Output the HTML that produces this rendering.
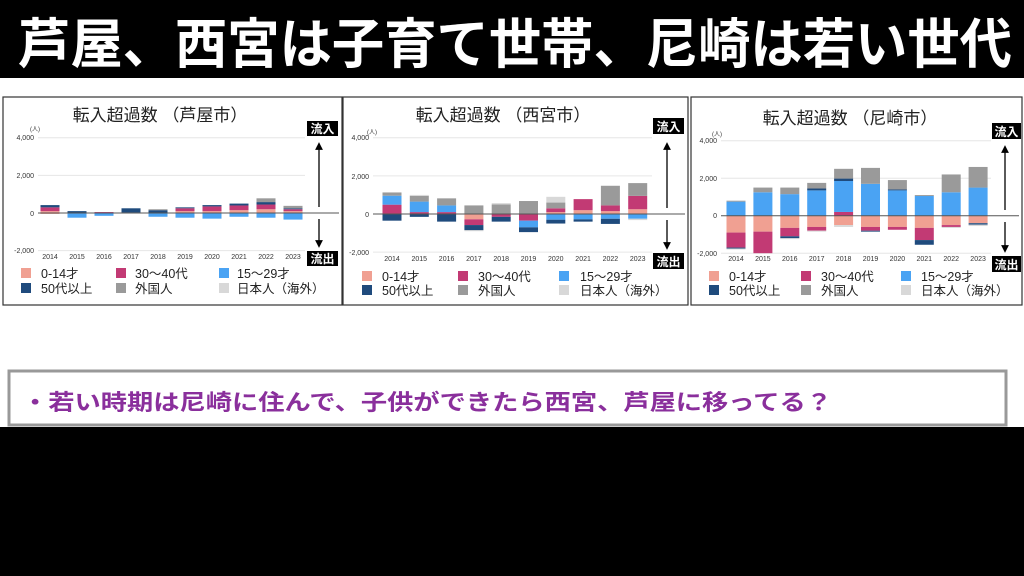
<!DOCTYPE html>
<html><head><meta charset="utf-8"><style>
html,body{margin:0;padding:0;background:#fff;}
body{width:1024px;height:576px;overflow:hidden;position:relative;}
svg{position:absolute;left:0;top:0;}
text{font-family:"Liberation Sans","Noto Sans CJK JP",sans-serif;}
</style></head><body>
<svg id="s" width="1024" height="576" viewBox="0 0 1024 576" xmlns="http://www.w3.org/2000/svg">
<rect x="0" y="0" width="1024" height="78" fill="#000"/>
<text x="18" y="63" font-size="54" font-weight="bold" fill="#fff" textLength="994" lengthAdjust="spacingAndGlyphs">芦屋、西宮は子育て世帯、尼崎は若い世代</text>
<rect x="0" y="427" width="1024" height="149" fill="#000"/>
<rect x="9" y="371" width="997" height="54" fill="#fff" stroke="#999" stroke-width="3"/>
<text x="22" y="410" font-size="22" font-weight="bold" fill="#8a2f9c" textLength="810" lengthAdjust="spacingAndGlyphs">・若い時期は尼崎に住んで、子供ができたら西宮、芦屋に移ってる？</text>
<g id="panels"></g>
</svg>
<script>
var C={p:"#f0a092",m:"#c23a74",b:"#4aa3f3",n:"#1f4b7d",g:"#9a9a9a",l:"#d8d8d8"};
var P=[
{bx:3,bw:339,name:"芦屋市",tx:160,y4:137.7,y0:213,x0:38,x1:305,c0:50,sp:27,lx:[22,117,220],ly:[274,288],inx:307,iny:122,outy:252,ax:319,
d:[[["p",100],["m",200],["n",120]],[["p",50]],
[["n",100]],[["b",250]],
[["m",50]],[["b",150]],
[["m",30],["n",220]],[],
[["n",150],["g",50]],[["b",200]],
[["p",100],["m",150],["n",50]],[["b",250]],
[["p",100],["m",250],["n",70]],[["b",300]],
[["p",150],["m",250],["n",100]],[["b",200]],
[["p",200],["m",250],["n",130],["g",200]],[["b",250]],
[["p",100],["m",100],["n",50],["g",130]],[["b",350]]]},
{bx:343,bw:345,name:"西宮市",tx:503,y4:137.7,y0:214,x0:373,x1:652,c0:392,sp:27.3,lx:[367,463,564],ly:[277,290],inx:653,iny:119,outy:253,ax:667,
d:[[["m",490],["b",470],["g",170]],[["n",350]],
[["m",100],["b",550],["g",300],["l",50]],[["n",150]],
[["m",100],["b",350],["g",370]],[["n",400]],
[["g",450]],[["p",280],["m",300],["n",270],["l",50]],
[["g",500],["l",70]],[["m",150],["n",250]],
[["g",680]],[["m",350],["b",350],["n",250]],
[["p",100],["m",200],["g",300],["l",300]],[["b",300],["n",200]],
[["p",200],["m",580]],[["b",280],["n",120]],
[["p",150],["m",300],["g",1030]],[["b",250],["n",270]],
[["p",250],["m",700],["g",670]],[["b",250],["l",70]]]},
{bx:691,bw:331,name:"尼崎市",tx:850,y4:140.7,y0:215.7,x0:721,x1:991,c0:736,sp:26.9,lx:[714,806,906],ly:[277,291],inx:993,iny:125,outy:257,ax:1006,
d:[[["b",750],["g",50]],[["p",900],["m",800],["n",50],["l",50]],
[["b",1250],["g",250]],[["p",850],["m",1150]],
[["b",1150],["g",350]],[["p",650],["m",450],["n",100],["l",50]],
[["b",1350],["n",100],["g",300]],[["p",600],["m",200],["l",50]],
[["m",200],["b",1650],["n",130],["g",520]],[["p",500],["l",100]],
[["b",1700],["g",850]],[["p",600],["m",200],["n",50]],
[["b",1350],["n",50],["g",500]],[["p",600],["m",150]],
[["b",1050],["g",50]],[["p",650],["m",650],["n",250]],
[["b",1250],["g",950]],[["p",500],["m",100],["l",50]],
[["b",1500],["g",1100]],[["p",400],["n",80],["l",70]]]}
];
var NS="http://www.w3.org/2000/svg",G=document.getElementById("panels");
function el(t,a,txt){var e=document.createElementNS(NS,t);for(var k in a)e.setAttribute(k,a[k]);if(txt!=null)e.textContent=txt;G.appendChild(e);return e;}
P.forEach(function(p){
 el("rect",{x:p.bx,y:97,width:p.bw,height:208,fill:"#fff",stroke:"#333","stroke-width":1.2});
 var u=(p.y0-p.y4)/4000;
 [4000,2000,-2000].forEach(function(v){var y=p.y0-v*u;el("line",{x1:p.x0,x2:p.x1,y1:y,y2:y,stroke:"#e6e6e6","stroke-width":1});});
 for(var i=0;i<10;i++){
  var cx=p.c0+i*p.sp,pos=p.d[2*i],neg=p.d[2*i+1],acc=0;
  pos.forEach(function(s){var h=s[1]*u;el("rect",{x:cx-9.5,y:p.y0-acc-h,width:19,height:h,fill:C[s[0]]});acc+=h;});
  acc=0;
  neg.forEach(function(s){var h=s[1]*u;el("rect",{x:cx-9.5,y:p.y0+acc,width:19,height:h,fill:C[s[0]]});acc+=h;});
 }
 el("line",{x1:p.x0,x2:p.bx+p.bw-3,y1:p.y0,y2:p.y0,stroke:"#555","stroke-width":1});
});
</script>
<svg width="1024" height="576" viewBox="0 0 1024 576" xmlns="http://www.w3.org/2000/svg" font-family="Liberation Sans, Noto Sans CJK JP, sans-serif">
<defs><marker id="ah" markerWidth="6" markerHeight="6" refX="3" refY="3" orient="auto"><path d="M0,0 L6,3 L0,6 z" fill="#000"/></marker></defs>
<!-- panel 1 -->
<text x="160" y="121" font-size="17" text-anchor="middle" fill="#222">転入超過数 （芦屋市）</text>
<g font-size="7" fill="#333" text-anchor="end"><text x="34" y="140">4,000</text><text x="34" y="178">2,000</text><text x="34" y="216">0</text><text x="34" y="253">-2,000</text></g>
<text x="30" y="131" font-size="6" fill="#333">(人)</text>
<g font-size="7" fill="#333" text-anchor="middle"><text x="50" y="259">2014</text><text x="77" y="259">2015</text><text x="104" y="259">2016</text><text x="131" y="259">2017</text><text x="158" y="259">2018</text><text x="185" y="259">2019</text><text x="212" y="259">2020</text><text x="239" y="259">2021</text><text x="266" y="259">2022</text><text x="293" y="259">2023</text></g>
<rect x="307" y="121" width="31" height="15" fill="#000"/><text x="322.5" y="133" font-size="12" font-weight="bold" fill="#fff" text-anchor="middle">流入</text>
<rect x="307" y="251" width="31" height="15" fill="#000"/><text x="322.5" y="263" font-size="12" font-weight="bold" fill="#fff" text-anchor="middle">流出</text>
<line x1="319" y1="207" x2="319" y2="146" stroke="#000" stroke-width="1.3" marker-end="url(#ah)"/>
<line x1="319" y1="219" x2="319" y2="244" stroke="#000" stroke-width="1.3" marker-end="url(#ah)"/>
<g font-size="12.5" fill="#222">
<rect x="21" y="268" width="10" height="10" fill="#f0a092"/><text x="41" y="278">0-14才</text>
<rect x="116" y="268" width="10" height="10" fill="#c23a74"/><text x="135" y="278">30〜40代</text>
<rect x="219" y="268" width="10" height="10" fill="#4aa3f3"/><text x="237" y="278">15〜29才</text>
<rect x="21" y="283" width="10" height="10" fill="#1f4b7d"/><text x="41" y="293">50代以上</text>
<rect x="116" y="283" width="10" height="10" fill="#9a9a9a"/><text x="135" y="293">外国人</text>
<rect x="219" y="283" width="10" height="10" fill="#d8d8d8"/><text x="237" y="293">日本人（海外）</text>
</g>
<!-- panel 2 -->
<text x="503" y="121" font-size="17" text-anchor="middle" fill="#222">転入超過数 （西宮市）</text>
<g font-size="7" fill="#333" text-anchor="end"><text x="369" y="140">4,000</text><text x="369" y="179">2,000</text><text x="369" y="217">0</text><text x="369" y="255">-2,000</text></g>
<text x="367" y="134" font-size="6" fill="#333">(人)</text>
<g font-size="7" fill="#333" text-anchor="middle"><text x="392" y="261">2014</text><text x="419.3" y="261">2015</text><text x="446.6" y="261">2016</text><text x="473.9" y="261">2017</text><text x="501.2" y="261">2018</text><text x="528.5" y="261">2019</text><text x="555.8" y="261">2020</text><text x="583.1" y="261">2021</text><text x="610.4" y="261">2022</text><text x="637.7" y="261">2023</text></g>
<rect x="653" y="118" width="31" height="16" fill="#000"/><text x="668.5" y="131" font-size="12" font-weight="bold" fill="#fff" text-anchor="middle">流入</text>
<rect x="653" y="253" width="31" height="16" fill="#000"/><text x="668.5" y="266" font-size="12" font-weight="bold" fill="#fff" text-anchor="middle">流出</text>
<line x1="667" y1="208" x2="667" y2="146" stroke="#000" stroke-width="1.3" marker-end="url(#ah)"/>
<line x1="667" y1="220" x2="667" y2="246" stroke="#000" stroke-width="1.3" marker-end="url(#ah)"/>
<g font-size="12.5" fill="#222">
<rect x="362" y="271" width="10" height="10" fill="#f0a092"/><text x="382" y="281">0-14才</text>
<rect x="458" y="271" width="10" height="10" fill="#c23a74"/><text x="478" y="281">30〜40代</text>
<rect x="559" y="271" width="10" height="10" fill="#4aa3f3"/><text x="580" y="281">15〜29才</text>
<rect x="362" y="285" width="10" height="10" fill="#1f4b7d"/><text x="382" y="295">50代以上</text>
<rect x="458" y="285" width="10" height="10" fill="#9a9a9a"/><text x="478" y="295">外国人</text>
<rect x="559" y="285" width="10" height="10" fill="#d8d8d8"/><text x="580" y="295">日本人（海外）</text>
</g>
<!-- panel 3 -->
<text x="850" y="124" font-size="17" text-anchor="middle" fill="#222">転入超過数 （尼崎市）</text>
<g font-size="7" fill="#333" text-anchor="end"><text x="717" y="143">4,000</text><text x="717" y="181">2,000</text><text x="717" y="218">0</text><text x="717" y="256">-2,000</text></g>
<text x="712" y="136" font-size="6" fill="#333">(人)</text>
<g font-size="7" fill="#333" text-anchor="middle"><text x="736" y="261">2014</text><text x="762.9" y="261">2015</text><text x="789.8" y="261">2016</text><text x="816.7" y="261">2017</text><text x="843.6" y="261">2018</text><text x="870.5" y="261">2019</text><text x="897.4" y="261">2020</text><text x="924.3" y="261">2021</text><text x="951.2" y="261">2022</text><text x="978.1" y="261">2023</text></g>
<rect x="992" y="123" width="29" height="16" fill="#000"/><text x="1006.5" y="136" font-size="12" font-weight="bold" fill="#fff" text-anchor="middle">流入</text>
<rect x="992" y="256" width="29" height="16" fill="#000"/><text x="1006.5" y="269" font-size="12" font-weight="bold" fill="#fff" text-anchor="middle">流出</text>
<line x1="1005" y1="210" x2="1005" y2="149" stroke="#000" stroke-width="1.3" marker-end="url(#ah)"/>
<line x1="1005" y1="222" x2="1005" y2="249" stroke="#000" stroke-width="1.3" marker-end="url(#ah)"/>
<g font-size="12.5" fill="#222">
<rect x="709" y="271" width="10" height="10" fill="#f0a092"/><text x="729" y="281">0-14才</text>
<rect x="801" y="271" width="10" height="10" fill="#c23a74"/><text x="821" y="281">30〜40代</text>
<rect x="901" y="271" width="10" height="10" fill="#4aa3f3"/><text x="921" y="281">15〜29才</text>
<rect x="709" y="285" width="10" height="10" fill="#1f4b7d"/><text x="729" y="295">50代以上</text>
<rect x="801" y="285" width="10" height="10" fill="#9a9a9a"/><text x="821" y="295">外国人</text>
<rect x="901" y="285" width="10" height="10" fill="#d8d8d8"/><text x="921" y="295">日本人（海外）</text>
</g>
</svg>
</body></html>
